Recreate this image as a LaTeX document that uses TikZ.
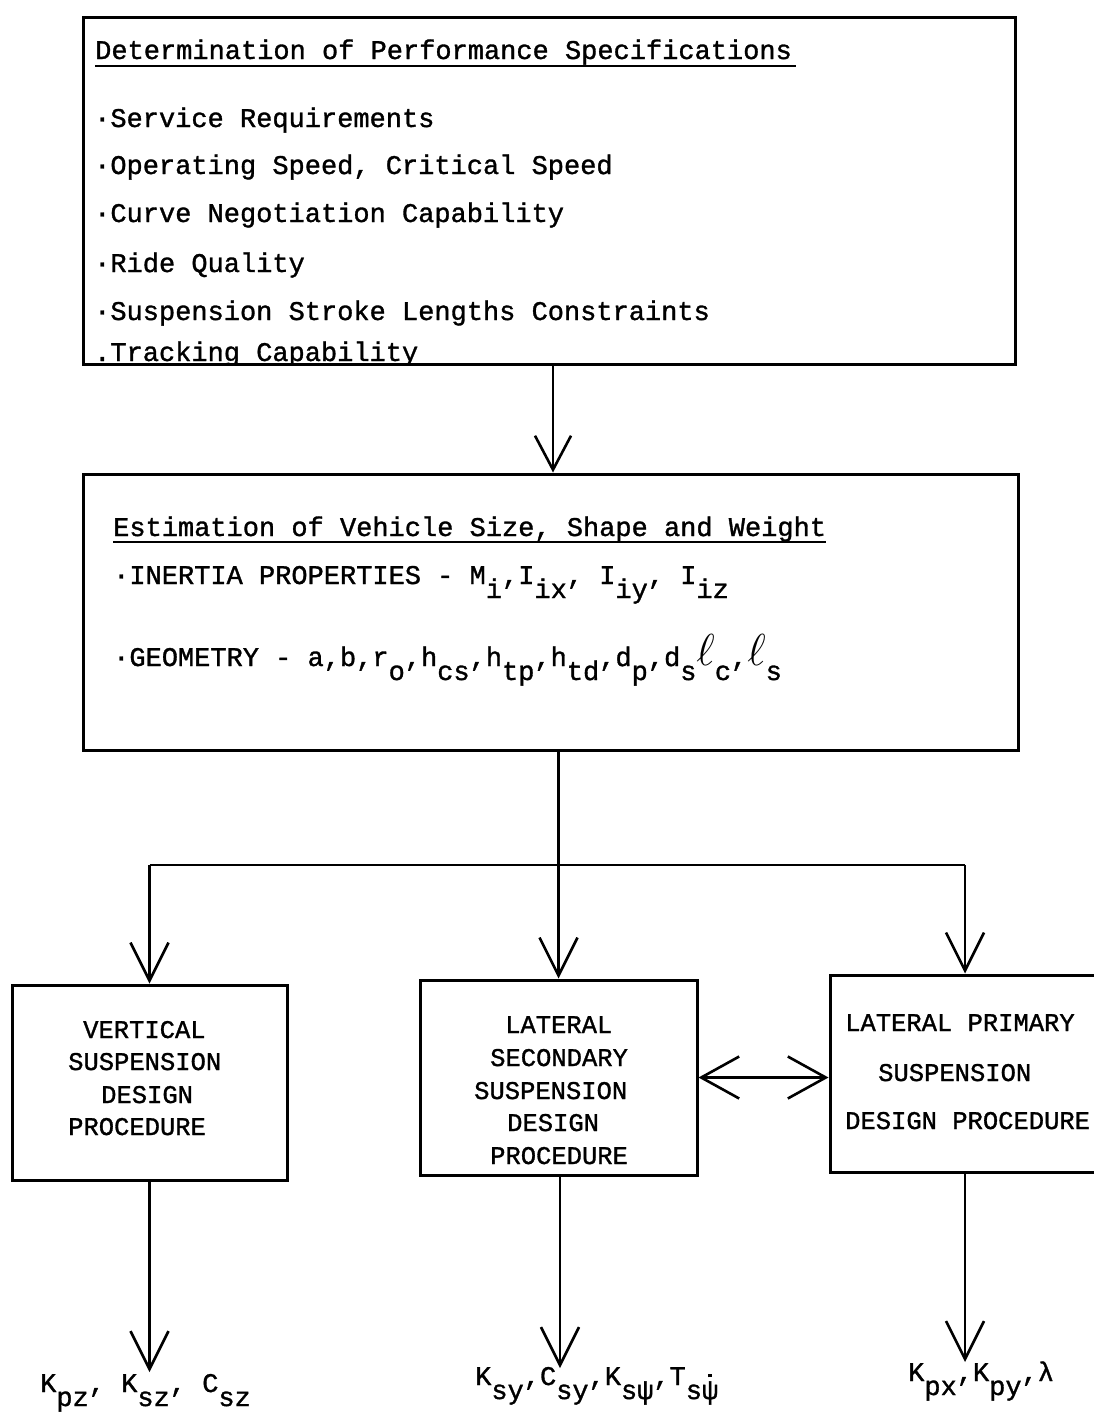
\documentclass[tikz,border=0pt]{standalone}
\usepackage{fontspec}
\setmainfont{Liberation Mono}[FakeBold=1.2]
\usetikzlibrary{arrows.meta}
\newcommand\sbs[1]{\raisebox{-14pt}{#1}}
\newcommand\ellc{\raisebox{1pt}{\scalebox{1.8}{$\ell$}}}
\newcommand\psidot{\leavevmode\rlap{ψ}\makebox[0.6em]{\raisebox{0.8em}{\rule{3.5pt}{3.5pt}}}}
\tikzset{
  box/.style={draw, line width=3pt, rectangle, inner sep=0pt},
  txt/.style={inner sep=0pt, anchor=base west, font=\fontsize{27}{30}\selectfont},
  captxt/.style={inner sep=0pt, anchor=base west, font=\fontsize{25.5}{30}\selectfont},
  ln/.style={line width=2.6pt},
  arr/.style={line width=2.6pt, -{Straight Barb[length=38pt,width=38pt]}},
  arrtop/.style={line width=2.6pt, -{Straight Barb[length=34pt,width=36pt]}},
  arrtwo/.style={line width=2.6pt, {Straight Barb[length=38pt,width=42pt]}-{Straight Barb[length=38pt,width=42pt]}},
  uline/.style={line width=2pt}
}
\begin{document}
\begin{tikzpicture}[x=1pt,y=-1pt]
\useasboundingbox (0,0) rectangle (1094,1416);
\clip (0,0) rectangle (1094,1416);
\fill[white] (0,0) rectangle (1094,1416);

% Box 1 text
\node[txt] (t1) at (95,59) {Determination of Performance Specifications};
\draw[uline] ([yshift=-7pt]t1.base west) -- ([yshift=-7pt,xshift=4pt]t1.base east);
\node[txt] (l11) at (94,127) {·Service Requirements};
\node[txt] (l12) at (94,174) {·Operating Speed, Critical Speed};
\node[txt] (l13) at (94,222) {·Curve Negotiation Capability};
\node[txt] (l14) at (94,272) {·Ride Quality};
\node[txt] (l15) at (94,320) {·Suspension Stroke Lengths Constraints};
\begin{scope}
\clip (83,17) rectangle (1015,363);
\node[txt] (l16) at (94,361) {.Tracking Capability};
\end{scope}
\node[box, minimum width=932pt, minimum height=347pt] (b1) at (549,190.5) {};

% Box 2
\node[box, minimum width=935pt, minimum height=276pt] (b2) at (550.5,612) {};
\node[txt] (t2) at (113,536) {Estimation of Vehicle Size, Shape and Weight};
\draw[uline] ([yshift=-6pt]t2.base west) -- ([yshift=-6pt]t2.base east);
\node[txt] (l21) at (113,584) {·INERTIA PROPERTIES - M\sbs{i},I\sbs{ix}, I\sbs{iy}, I\sbs{iz}};
\node[txt] (l22) at (113,666) {·GEOMETRY - a,b,r\sbs{o},h\sbs{cs},h\sbs{tp},h\sbs{td},d\sbs{p},d\sbs{s}\ellc\sbs{c},\ellc\sbs{s}};

% Lower boxes
\node[box, minimum width=275pt, minimum height=195pt] (b3) at (149.5,1082.5) {};
\node[box, minimum width=277pt, minimum height=195pt] (b4) at (558.5,1077.5) {};
\node[box, minimum width=270pt, minimum height=197pt] (b5) at (965,1073.5) {};

\node[captxt] (v1) at (83,1038) {VERTICAL};
\node[captxt] (v2) at (68,1070) {SUSPENSION};
\node[captxt] (v3) at (101,1103) {DESIGN};
\node[captxt] (v4) at (68,1135) {PROCEDURE};

\node[captxt] (m1) at (505,1033) {LATERAL};
\node[captxt] (m2) at (490,1066) {SECONDARY};
\node[captxt] (m3) at (474,1099) {SUSPENSION};
\node[captxt] (m4) at (507,1131) {DESIGN};
\node[captxt] (m5) at (490,1164) {PROCEDURE};

\node[captxt] (r1) at (845,1031) {LATERAL PRIMARY};
\node[captxt] (r2) at (878,1081) {SUSPENSION};
\node[captxt] (r3) at (845,1129) {DESIGN PROCEDURE};

% Outputs
\node[txt] (o1) at (40,1392) {K\sbs{pz}, K\sbs{sz}, C\sbs{sz}};
\node[txt] (o2) at (475,1385) {K\sbs{sy},C\sbs{sy},K\sbs{sψ},T\sbs{s\psidot}};
\node[txt] (o3) at (908,1381) {K\sbs{px},K\sbs{py},λ};

% Connectors
\draw[arrtop] ([xshift=4pt]b1.south) -- ([xshift=4pt]b1.south |- b2.north);
\coordinate (bus) at (550,865);
\draw[arr] (b2.south -| b4.north) -- (b4.north);
\draw[ln] (b3.north |- bus) -- (b5.north |- bus);
\draw[arr] (b3.north |- bus) -- (b3.north);
\draw[arr] (b5.north |- bus) -- (b5.north);
\draw[arrtwo] (b4.east) -- (b4.east -| b5.west);
\coordinate (e1) at (149.5,1372);
\coordinate (e2) at (560,1368);
\coordinate (e3) at (965,1362);
\draw[arr] (b3.south) -- (e1);
\draw[arr] (b4.south -| e2) -- (e2);
\draw[arr] (b5.south) -- (e3);
\end{tikzpicture}
\end{document}
